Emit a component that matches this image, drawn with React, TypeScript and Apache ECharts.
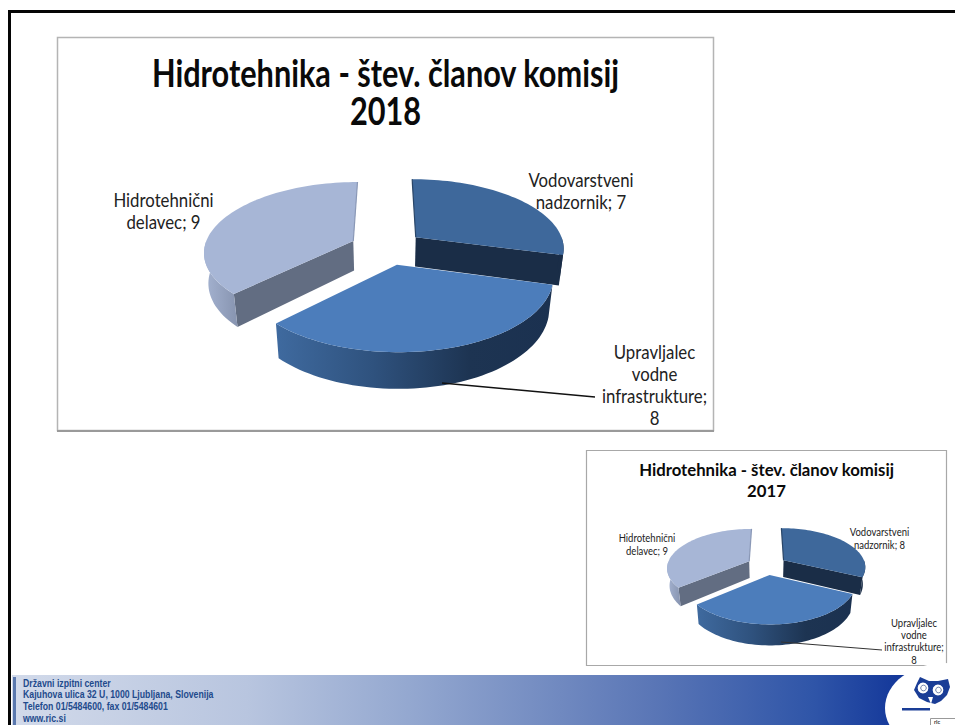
import React, { useEffect, useRef } from "react";
import * as echarts from "echarts";

const categories = ["Vodovarstveni", "Upravljalec", "Hidrotehnični"];
const labelLines = [["Vodovarstveni", "nadzornik; "], ["Upravljalec", "vodne", "infrastrukture;", ""], ["Hidrotehnični", "delavec; "]];
const values2018 = [7, 8, 9];
const values2017 = [8, 8, 9];
const title2018 = ["Hidrotehnika - štev. članov komisij", "2018"];
const title2017 = ["Hidrotehnika - štev. članov komisij", "2017"];
const footerLines = [
  "Državni izpitni center",
  "Kajuhova ulica 32 U, 1000 Ljubljana, Slovenija",
  "Telefon 01/5484600, fax 01/5484601",
  "www.ric.si",
];
const topColors = ["#3e689b", "#4c7dbb", "#a7b6d6"];
const radialColors = ["#1a2d47", "#1a2d47", "#626d82"];
const edgeColors = ["#2a4668", "", "#8a98b6"];

const big = { cx: 387, cy: 247.5, R: 149, e: 37, a: 0.000974, t: 0.465, h: 30, v: 0.0008 };
const small = { cx: 767, cy: 565.3, R: 82, e: 20, a: 0.00187, t: 0.47, h: 17, v: 0.00145 };

type Model = typeof big;
const rad = (d: number) => (d * Math.PI) / 180;

function project(m: Model, ox: number, oy: number, r: number, deg: number, drop: number) {
  const X = ox + r * Math.sin(rad(deg));
  const Y = oy - r * Math.cos(rad(deg));
  const w = 1 / (1 - Y * m.a);
  return [m.cx + X * w * (1 - drop * m.v), m.cy + m.t * Y * w + drop * w];
}

function outerFill(i: number) {
  if (i === 1)
    return new echarts.graphic.LinearGradient(0, 0, 1, 0, [
      { offset: 0, color: "#3f6a9f" },
      { offset: 0.35, color: "#2f527e" },
      { offset: 0.7, color: "#1d3452" },
      { offset: 1, color: "#1b3150" },
    ]);
  if (i === 2)
    return new echarts.graphic.LinearGradient(0, 0, 1, 0, [
      { offset: 0, color: "#a5b3d1" },
      { offset: 1, color: "#8794b0" },
    ]);
  return "#1a2d47";
}

function pieSeries(values: number[], m: Model) {
  const total = values.reduce((s, v) => s + v, 0);
  return {
    type: "custom",
    coordinateSystem: "none",
    silent: true,
    z: 2,
    data: values.map((v, i) => ({ name: categories[i], value: [v] })),
    renderItem: (params: any, api: any) => {
      const i = params.dataIndex;
      const start = (values.slice(0, i).reduce((s, v) => s + v, 0) / total) * 360;
      const end = start + (Number(api.value(0)) / total) * 360;
      const mid = (start + end) / 2;
      const ox = m.e * Math.sin(rad(mid));
      const oy = -m.e * Math.cos(rad(mid));
      const arc = (a: number, b: number, drop: number) => {
        const pts: number[][] = [];
        const n = Math.max(2, Math.ceil(Math.abs(b - a) / 2));
        for (let k = 0; k <= n; k++) pts.push(project(m, ox, oy, m.R, a + ((b - a) * k) / n, drop));
        return pts;
      };
      const apexTop = project(m, ox, oy, 0, 0, 0);
      const apexBot = project(m, ox, oy, 0, 0, m.h);
      const z2 = i === 1 ? 20 : 10;
      const children: any[] = [];
      const radial = (deg: number) => ({
        type: "polygon",
        z2,
        shape: { points: [apexTop, project(m, ox, oy, m.R, deg, 0), project(m, ox, oy, m.R, deg, m.h), apexBot] },
        style: { fill: radialColors[i] },
      });
      if (Math.sin(rad(start)) < -0.001) children.push(radial(start));
      if (Math.sin(rad(end)) > 0.001) children.push(radial(end));
      const a = Math.max(start, 90);
      const b = Math.min(end, 270);
      if (b > a) {
        children.push({
          type: "polygon",
          z2: z2 + 1,
          shape: { points: [...arc(a, b, 0), ...arc(b, a, m.h)] },
          style: { fill: outerFill(i) },
        });
      }
      children.push({
        type: "polygon",
        z2: z2 + 2,
        shape: { points: [apexTop, ...arc(start, end, 0)] },
        style: { fill: topColors[i] },
      });
      if (edgeColors[i]) {
        const deg = i === 0 ? start : end;
        children.push({
          type: "polyline",
          z2: z2 + 3,
          shape: { points: [project(m, ox, oy, m.R, deg, 0), apexTop] },
          style: { stroke: edgeColors[i], lineWidth: 1.2, fill: "none" },
        });
      }
      return { type: "group", children };
    },
  };
}

const FONT = "Lato";

function txt(s: string, x: number, y: number, size: number, opts: any = {}) {
  return {
    type: "text",
    x,
    y,
    z: 10,
    scaleX: opts.sx ?? 1,
    scaleY: opts.sy ?? 1,
    silent: true,
    style: {
      text: s,
      x: 0,
      y: 0,
      align: opts.align ?? "center",
      verticalAlign: "middle",
      fontFamily: opts.font ?? FONT,
      fontWeight: opts.weight ?? "normal",
      fontSize: size,
      fill: opts.fill ?? "#1a1a1a",
    },
  };
}

function buildGraphic() {
  const g: any[] = [];
  g.push({ type: "rect", z: 1, shape: { x: 8, y: 10, width: 947, height: 3 }, style: { fill: "#050505" } });
  g.push({ type: "rect", z: 1, shape: { x: 8, y: 10, width: 3, height: 715 }, style: { fill: "#050505" } });
  g.push({ type: "rect", z: 1, shape: { x: 57.5, y: 37.5, width: 656, height: 393 }, style: { fill: "#fff", stroke: "#b4b4b4", lineWidth: 1.5 } });
  g.push({ type: "line", z: 1, shape: { x1: 57, y1: 431, x2: 714, y2: 431 }, style: { stroke: "#9a9a9a", lineWidth: 2 } });
  g.push({ type: "rect", z: 1, shape: { x: 586.5, y: 450.5, width: 360, height: 215 }, style: { fill: "#fff", stroke: "#a8a8a8", lineWidth: 1.2 } });
  title2018.forEach((s, i) => g.push(txt(s, 385.5, 72 + i * 38, 35, { weight: "bold", fill: "#0a0a0a", sy: 1.1, sx: 0.877 })));
  title2017.forEach((s, i) => g.push(txt(s, 766.5, 469.5 + i * 21, 17, { weight: "bold", fill: "#0a0a0a", sx: 0.985 })));
  const put = (vals: number[], places: number[][], size: number, step: number, sx: number, sy: number) => {
    labelLines.forEach((lines, i) => {
      lines.forEach((l, k) => {
        const last = k === lines.length - 1;
        g.push(txt(last ? l + vals[i] : l, places[i][0], places[i][1] + k * step, size, { fill: "#222", sx, sy }));
      });
    });
  };
  put(values2018, [[581, 180], [654.5, 352], [163.5, 200]], 17.5, 22, 0.96, 1.1);
  put(values2017, [[879.5, 532], [914, 622.5], [647, 538]], 10, 12.4, 0.95, 1.05);
  g.push({ type: "polyline", z: 9, shape: { points: [[442, 383], [595, 397]] }, style: { stroke: "#111", lineWidth: 1.5, fill: "none" } });
  g.push({ type: "polyline", z: 9, shape: { points: [[781, 642], [882, 650]] }, style: { stroke: "#333", lineWidth: 1, fill: "none" } });
  g.push({
    type: "rect",
    z: 1,
    shape: { x: 12, y: 675, width: 943, height: 50 },
    style: {
      fill: new echarts.graphic.LinearGradient(0, 0, 1, 0, [
        { offset: 0, color: "#d2daea" },
        { offset: 0.25, color: "#b8c5df" },
        { offset: 0.42, color: "#94a8d0" },
        { offset: 0.68, color: "#5a76b6" },
        { offset: 0.85, color: "#2f55a8" },
        { offset: 0.94, color: "#14389a" },
        { offset: 1, color: "#14389a" },
      ]),
    },
  });
  g.push({ type: "rect", z: 2, shape: { x: 13, y: 677, width: 3, height: 48 }, style: { fill: "#5a78ae" } });
  footerLines.forEach((s, i) =>
    g.push(txt(s, 23, 683.5 + i * 11.8, 10, { align: "left", font: "Liberation Sans", weight: "bold", fill: "#1e4a8c", sx: 0.873 }))
  );
  g.push({ type: "ellipse", z: 2, shape: { cx: 945, cy: 708, rx: 60, ry: 45 }, style: { fill: "#fff" } });
  g.push({
    type: "polygon",
    z: 3,
    shape: { points: [[914, 690], [917, 683], [920, 677], [929, 681], [938, 681], [948, 679], [950, 687], [947, 695], [941, 701], [935, 704], [927, 702], [919, 698]] },
    style: { fill: "#1a3d96" },
  });
  g.push({ type: "circle", z: 4, shape: { cx: 923, cy: 688, r: 6 }, style: { fill: "#fff", stroke: "#1a3d96", lineWidth: 1.2 } });
  g.push({ type: "circle", z: 4, shape: { cx: 938, cy: 690, r: 6 }, style: { fill: "#fff", stroke: "#1a3d96", lineWidth: 1.2 } });
  g.push({ type: "circle", z: 5, shape: { cx: 923.5, cy: 688, r: 2.8 }, style: { fill: "none", stroke: "#6d7fa8", lineWidth: 1 } });
  g.push({ type: "circle", z: 5, shape: { cx: 938.5, cy: 690, r: 2.8 }, style: { fill: "none", stroke: "#6d7fa8", lineWidth: 1 } });
  g.push({ type: "polygon", z: 4, shape: { points: [[928, 697], [933, 697], [931, 704]] }, style: { fill: "#fff" } });
  g.push({ type: "rect", z: 3, shape: { x: 902, y: 708, width: 28, height: 2.5 }, style: { fill: "#1a3d96" } });
  g.push({ type: "rect", z: 3, shape: { x: 930.5, y: 718.5, width: 26, height: 10 }, style: { fill: "#fff", stroke: "#999", lineWidth: 1 } });
  g.push(txt("ric", 934, 721.5, 5.5, { align: "left", weight: "bold", fill: "#333" }));
  return g;
}

export default function App() {
  const ref = useRef<HTMLDivElement>(null);
  useEffect(() => {
    const chart = echarts.init(ref.current!, undefined, { renderer: "svg" });
    chart.setOption({
      animation: false,
      backgroundColor: "#fff",
      graphic: { elements: buildGraphic() },
      series: [pieSeries(values2018, big), pieSeries(values2017, small)],
    });
    return () => chart.dispose();
  }, []);
  return <div ref={ref} style={{ position: "fixed", left: 0, top: 0, width: 955, height: 725 }} />;
}
